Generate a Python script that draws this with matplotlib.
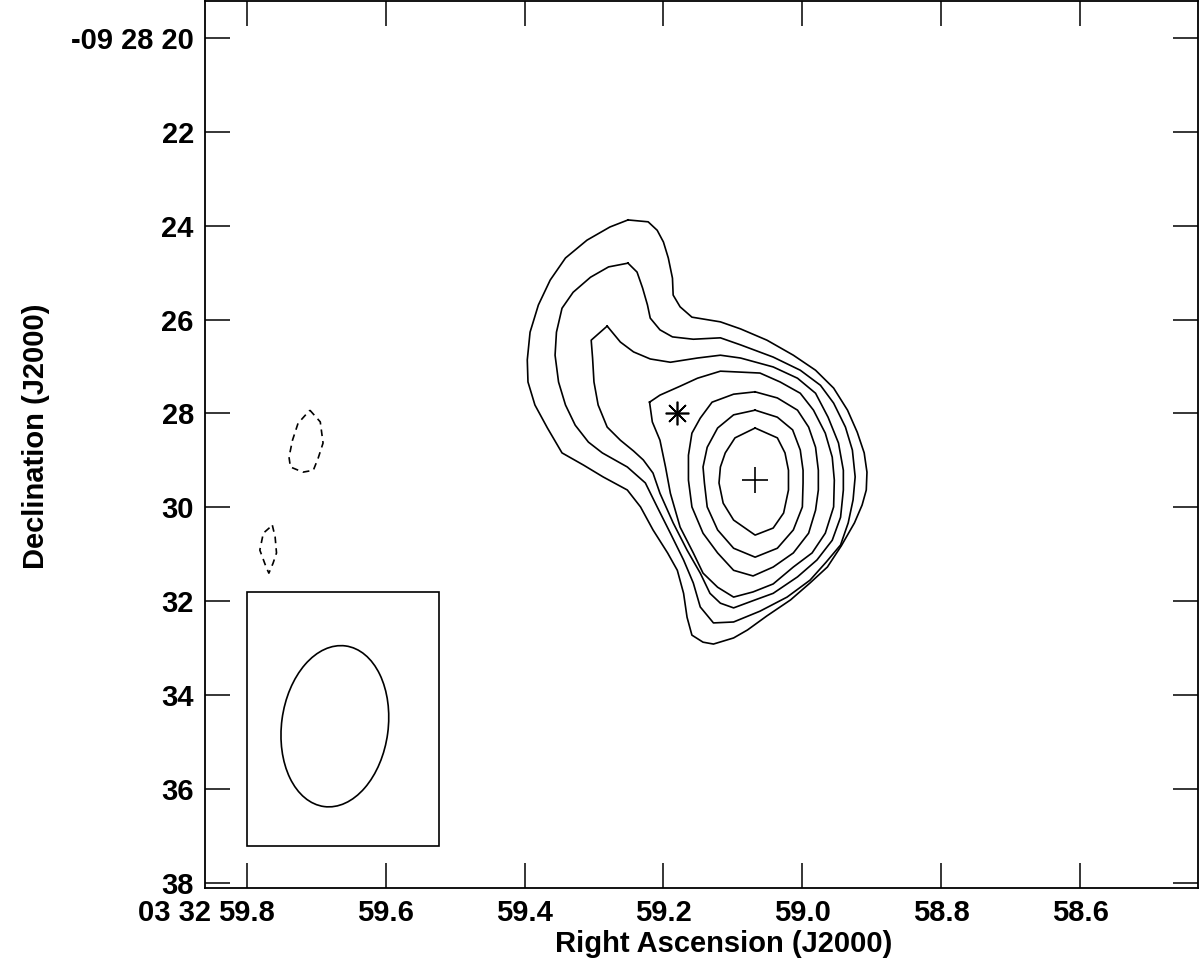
import numpy as np
import matplotlib
matplotlib.use("Agg")
import matplotlib.pyplot as plt
from matplotlib.patches import Ellipse, Rectangle
from matplotlib.transforms import Affine2D

plt.rcParams['font.family'] = ['Liberation Sans', 'DejaVu Sans']
plt.rcParams['font.weight'] = 'bold'

# ---------------- data (RA seconds of 03h32m, Dec arcsec of -09d28m) ----------------
c1_ra = [59.251, 59.222, 59.209, 59.200, 59.193, 59.187, 59.186, 59.176, 59.159, 59.118,
         59.089, 59.051, 59.013, 58.981, 58.955, 58.935, 58.921, 58.911, 58.907, 58.908,
         58.914, 58.925, 58.944, 58.964, 58.989, 59.017, 59.051, 59.079, 59.099, 59.128,
         59.143, 59.159, 59.166, 59.171, 59.180, 59.194, 59.215, 59.233, 59.252, 59.287,
         59.315, 59.346, 59.367, 59.385, 59.395, 59.396, 59.392, 59.380, 59.363, 59.341,
         59.310, 59.277]
c1_dec = [23.88, 23.92, 24.10, 24.35, 24.69, 25.12, 25.48, 25.73, 25.95, 26.05,
          26.20, 26.44, 26.76, 27.08, 27.46, 27.93, 28.40, 28.84, 29.25, 29.63,
          29.95, 30.33, 30.82, 31.27, 31.61, 31.97, 32.31, 32.61, 32.78, 32.91,
          32.87, 32.72, 32.34, 31.83, 31.34, 30.97, 30.48, 29.99, 29.63, 29.35,
          29.10, 28.84, 28.31, 27.82, 27.33, 26.86, 26.27, 25.69, 25.16, 24.69,
          24.31, 24.03]

c2_ra = [59.251, 59.238, 59.230, 59.223, 59.219, 59.205, 59.187, 59.157, 59.118, 59.089,
         59.042, 59.003, 58.974, 58.955, 58.938, 58.928, 58.924, 58.927, 58.934, 58.945,
         58.966, 58.989, 59.022, 59.061, 59.099, 59.128, 59.147, 59.157, 59.171, 59.190,
         59.209, 59.226, 59.252, 59.288, 59.308, 59.327, 59.341, 59.351, 59.356, 59.354,
         59.346, 59.330, 59.305, 59.279]
c2_dec = [24.80, 24.99, 25.33, 25.69, 25.97, 26.22, 26.37, 26.42, 26.39, 26.54,
          26.80, 27.08, 27.40, 27.78, 28.29, 28.78, 29.35, 29.84, 30.33, 30.80,
          31.17, 31.55, 31.91, 32.21, 32.44, 32.46, 32.12, 31.61, 31.12, 30.55,
          29.99, 29.48, 29.14, 28.84, 28.61, 28.25, 27.82, 27.33, 26.76, 26.27,
          25.76, 25.42, 25.10, 24.88]

c3_ra = [59.281, 59.262, 59.243, 59.219, 59.190, 59.151, 59.118, 59.089, 59.042, 59.007,
         58.981, 58.963, 58.948, 58.941, 58.941, 58.945, 58.957, 58.979, 59.007, 59.042,
         59.068, 59.099, 59.118, 59.133, 59.147, 59.166, 59.186, 59.205, 59.215, 59.229,
         59.243, 59.262, 59.281, 59.294, 59.300, 59.302, 59.304]
c3_dec = [26.14, 26.48, 26.69, 26.84, 26.91, 26.82, 26.76, 26.82, 27.01, 27.25,
          27.57, 28.08, 28.63, 29.21, 29.63, 30.21, 30.70, 31.12, 31.48, 31.83,
          31.97, 32.14, 32.04, 31.83, 31.40, 30.91, 30.33, 29.70, 29.27, 28.99,
          28.80, 28.57, 28.29, 27.82, 27.33, 26.82, 26.44]

c4_ra = [59.220, 59.205, 59.176, 59.151, 59.118, 59.089, 59.061, 59.032, 59.003, 58.984,
         58.967, 58.957, 58.954, 58.955, 58.967, 58.986, 59.013, 59.042, 59.071, 59.099,
         59.122, 59.143, 59.157, 59.176, 59.190, 59.197, 59.205, 59.216]
c4_dec = [27.76, 27.61, 27.42, 27.25, 27.10, 27.12, 27.14, 27.33, 27.57, 27.93,
          28.42, 28.93, 29.42, 29.99, 30.55, 30.97, 31.27, 31.63, 31.80, 31.91,
          31.70, 31.40, 30.97, 30.42, 29.70, 29.14, 28.57, 28.18]

c5_ra = [59.068, 59.036, 59.007, 58.991, 58.981, 58.977, 58.977, 58.981, 58.991, 59.013,
         59.042, 59.071, 59.099, 59.122, 59.143, 59.159, 59.164, 59.164, 59.159, 59.147,
         59.130, 59.099]
c5_dec = [27.54, 27.67, 27.93, 28.29, 28.72, 29.21, 29.63, 30.06, 30.55, 30.97,
          31.27, 31.46, 31.34, 30.97, 30.55, 29.99, 29.42, 28.89, 28.42, 28.10,
          27.76, 27.59]

c6_ra = [59.068, 59.036, 59.014, 59.003, 58.999, 58.999, 59.000, 59.013, 59.036, 59.068,
         59.099, 59.122, 59.137, 59.141, 59.143, 59.137, 59.122, 59.099]
c6_dec = [27.93, 28.08, 28.35, 28.78, 29.21, 29.48, 29.99, 30.48, 30.87, 31.06,
          30.87, 30.48, 29.99, 29.48, 29.14, 28.72, 28.31, 28.03]

c7_ra = [59.068, 59.036, 59.025, 59.020, 59.020, 59.027, 59.042, 59.068, 59.099, 59.114,
         59.120, 59.118, 59.111, 59.097]
c7_dec = [28.31, 28.52, 28.84, 29.21, 29.63, 30.12, 30.44, 30.59, 30.27, 29.91,
          29.48, 29.14, 28.84, 28.52]

# negative (dashed) contours
n1_ra = [59.709, 59.694, 59.690, 59.697, 59.704, 59.719, 59.737, 59.739, 59.734, 59.726]
n1_dec = [27.93, 28.18, 28.63, 28.95, 29.21, 29.25, 29.14, 28.93, 28.57, 28.21]
n2_ra = [59.763, 59.759, 59.757, 59.762, 59.768, 59.772, 59.781, 59.776]
n2_dec = [30.38, 30.63, 30.97, 31.19, 31.40, 31.27, 30.91, 30.55]

# markers
star_ra, star_dec = [59.181], [28.00]
plus_ra, plus_dec = [59.068], [29.42]

# synthesized beam (arcsec, deg) and its box
beam_ra, beam_dec = 59.673, 34.66
beam_major, beam_minor, beam_pa = 3.45, 2.27, -7.6
box_ra = [59.799, 59.523]
box_dec = [31.81, 37.21]
DEC0_DEG = -9.475

# axes ticks
ra_ticks = [59.8, 59.6, 59.4, 59.2, 59.0, 58.8, 58.6]
ra_ticklabels = ['59.8', '59.6', '59.4', '59.2', '59.0', '58.8', '58.6']
ra_prefix = '03 32'
dec_ticks = [20, 22, 24, 26, 28, 30, 32, 34, 36, 38]
dec_ticklabels = ['-09 28 20', '22', '24', '26', '28', '30', '32', '34', '36', '38']

# ---------------- figure ----------------
FS = 21
fig = plt.figure(figsize=(12, 9.74), dpi=100)
ax = fig.add_axes([0.1708, 0.0880, 0.8278, 0.9110])
ax.set_xlim(59.860, 58.430)
ax.set_ylim(38.11, 19.218)

lw = 1.2
for ra, dec in [(c1_ra, c1_dec), (c2_ra, c2_dec), (c3_ra, c3_dec), (c4_ra, c4_dec),
                (c5_ra, c5_dec), (c6_ra, c6_dec), (c7_ra, c7_dec)]:
    ax.plot(ra + ra[:1], dec + dec[:1], color='black', lw=lw)

for ra, dec in [(n1_ra, n1_dec), (n2_ra, n2_dec)]:
    ax.plot(ra + ra[:1], dec + dec[:1], color='black', lw=lw, linestyle=(0, (4, 3)))

ax.plot(star_ra, star_dec, linestyle='none', marker=(8, 2, 0), ms=17, mew=1.2, color='black')
ax.plot(plus_ra, plus_dec, linestyle='none', marker='+', ms=19, mew=1.2, color='black')

ax.add_patch(Rectangle((box_ra[0], box_dec[0]), box_ra[1] - box_ra[0], box_dec[1] - box_dec[0],
                       fill=False, lw=lw, edgecolor='black'))
cosd = np.cos(np.deg2rad(DEC0_DEG))
tr = Affine2D().scale(1.0 / (15.0 * cosd), -1.0).translate(beam_ra, beam_dec) + ax.transData
ax.add_patch(Ellipse((0, 0), width=beam_minor, height=beam_major, angle=-beam_pa,
                     fill=False, lw=lw, edgecolor='black', transform=tr))

ax.set_xticks(ra_ticks)
ax.set_xticklabels(ra_ticklabels)
ax.set_yticks(dec_ticks)
ax.set_yticklabels(dec_ticklabels)
ax.tick_params(direction='in', length=18, width=1.1, top=True, right=True,
               labelsize=FS, pad=8, color='black')
for s in ax.spines.values():
    s.set_linewidth(1.3)

ax.annotate(ra_prefix, xy=(ra_ticks[0], 0), xycoords=('data', 'axes fraction'),
            xytext=(-26, -8), textcoords='offset points', ha='right', va='top',
            fontsize=FS, fontweight='bold')

ax.set_xlabel('Right Ascension (J2000)', fontsize=FS, fontweight='bold')
ax.set_ylabel('Declination (J2000)', fontsize=FS, fontweight='bold')
ax.xaxis.set_label_coords(0.5225, -0.047)
ax.yaxis.set_label_coords(-0.156, 0.509)

fig.savefig('out.png', dpi=100)
